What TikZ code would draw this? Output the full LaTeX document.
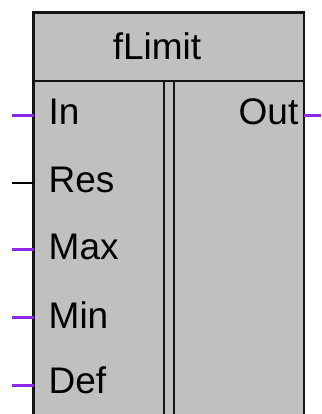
\documentclass[tikz,border=0pt]{standalone}
\usepackage{fontspec}
\setmainfont{Liberation Sans}
\definecolor{boxgray}{RGB}{192,192,192}
\definecolor{pinviolet}{RGB}{140,40,230}
\definecolor{edge}{RGB}{20,20,20}
\begin{document}
\begin{tikzpicture}[x=1pt,y=-1pt,
  frame/.style={draw=edge,line width=2.8pt,fill=boxgray},
  pinline/.style={line width=3pt,draw=pinviolet},
  respin/.style={line width=2pt,draw=black},
  lbl/.style={font=\fontsize{37}{40}\selectfont,inner sep=0pt,text=black}]
\clip (0,0) rectangle (321,414);
\useasboundingbox (0,0) rectangle (321,414);
% body
\fill[boxgray] (33.5,12.5) rectangle (304,430);
\draw[frame] (33.5,12.5) rectangle (304,81);
\draw[frame] (33.5,81) rectangle (164,430);
\draw[frame] (174,81) rectangle (304,430);
% named anchors for pins
\coordinate (inL) at (33.5,115.5);
\coordinate (resL) at (33.5,183);
\coordinate (maxL) at (33.5,249.5);
\coordinate (minL) at (33.5,317.5);
\coordinate (defL) at (33.5,385);
\coordinate (outR) at (304,115.5);
\coordinate (inE) at (12,115.5);
\coordinate (resE) at (12,183);
\coordinate (maxE) at (12,249.5);
\coordinate (minE) at (12,317.5);
\coordinate (defE) at (12,385);
\coordinate (outE) at (322,115.5);
\draw[pinline] (inE) -- (inL);
\draw[respin] (resE) -- (resL);
\draw[pinline] (maxE) -- (maxL);
\draw[pinline] (minE) -- (minL);
\draw[pinline] (defE) -- (defL);
\draw[pinline] (outR) -- (outE);
% labels
\node[lbl,anchor=base] (title) at (157,60) {fLimit};
\node[lbl,anchor=base west] (lin) at (48.5,124.5) {In};
\node[lbl,anchor=base west] (lres) at (48.5,192) {Res};
\node[lbl,anchor=base west] (lmax) at (48.5,259.5) {Max};
\node[lbl,anchor=base west] (lmin) at (48.5,328.5) {Min};
\node[lbl,anchor=base west] (ldef) at (48.5,393.5) {Def};
\node[lbl,anchor=base east] (lout) at (298.5,124.5) {Out};
\end{tikzpicture}
\end{document}
